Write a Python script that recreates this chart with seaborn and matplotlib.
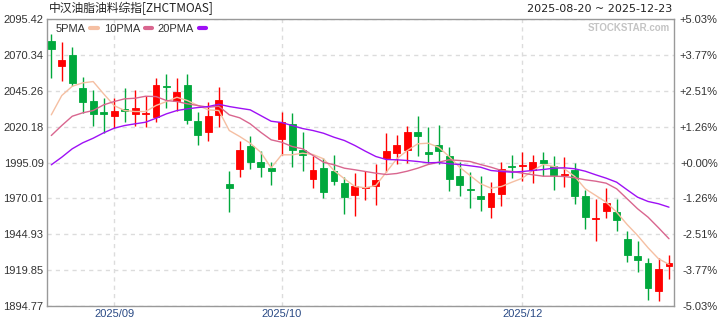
import matplotlib
matplotlib.use("Agg")
import matplotlib.pyplot as plt
from matplotlib.lines import Line2D
import seaborn as sns
import numpy as np
import pandas as pd

# ---------------- data ----------------
opens = [2079.84, 2062.37, 2070.55, 2047.00, 2038.41, 2030.72, 2027.44, 2032.61, 2028.84, 2028.84,
         2026.74, 2048.89, 2037.92, 2049.59, 2024.44, 2016.26, 2028.42, 1979.73, 1990.41, 2006.97,
         1995.10, 1991.11, 2011.37, 2022.34, 2003.97, 1983.43, 1991.11, 1988.81, 1980.42, 1972.04,
         1976.93, 1978.54, 1998.10, 2001.59, 2003.69, 2016.75, 2002.78, 2007.67, 1999.29, 1985.31,
         1976.44, 1971.34, 1963.87, 1972.95, 1992.30, 1992.79, 1989.51, 1997.19, 1992.30, 1986.22,
         1989.51, 1971.34, 1955.27, 1961.07, 1960.16, 1941.30, 1929.43, 1924.54, 1905.18, 1922.79]
highs = [2085.01, 2079.14, 2076.13, 2055.18, 2046.09, 2040.50, 2040.50, 2047.49, 2046.09, 2041.90,
         2053.99, 2057.27, 2053.99, 2056.78, 2030.72, 2037.71, 2047.70, 1988.81, 2010.46, 2013.96,
         2003.48, 1995.10, 2030.23, 2030.03, 2016.75, 1999.50, 1998.10, 1999.99, 1984.83, 1987.41,
         1989.02, 1993.70, 2016.05, 2014.66, 2020.94, 2027.93, 2020.25, 2021.64, 2006.27, 1995.10,
         1988.11, 1985.31, 1981.12, 1995.58, 2000.68, 2002.29, 1999.99, 2002.78, 1999.29, 1998.80,
         1994.88, 1975.53, 1969.25, 1977.42, 1969.74, 1946.89, 1939.90, 1928.24, 1928.24, 1930.12]
lows = [2053.99, 2052.38, 2048.40, 2029.82, 2020.46, 2015.56, 2019.06, 2023.25, 2020.46, 2019.76,
        2023.25, 2033.03, 2031.42, 2021.85, 2007.46, 2009.98, 2019.76, 1960.16, 1984.83, 1990.41,
        1984.83, 1979.24, 2000.68, 1991.81, 1989.02, 1977.14, 1970.16, 1979.03, 1959.26, 1957.58,
        1969.04, 1965.05, 1988.32, 1994.19, 1994.61, 1999.50, 1994.88, 1994.19, 1975.32, 1971.55,
        1963.17, 1961.07, 1956.18, 1964.57, 1984.27, 1982.03, 1980.63, 1985.31, 1975.53, 1977.84,
        1965.75, 1948.78, 1940.12, 1956.18, 1947.10, 1925.23, 1918.45, 1898.69, 1897.99, 1913.71]
closes = [2074.53, 2066.56, 2050.49, 2037.22, 2028.84, 2029.33, 2031.42, 2031.21, 2033.03, 2029.54,
          2049.59, 2047.70, 2044.70, 2024.65, 2014.45, 2027.93, 2039.11, 1977.14, 2004.18, 1995.30,
          1991.60, 1989.02, 2023.74, 2003.69, 2000.19, 1989.51, 1974.35, 1982.03, 1970.85, 1978.33,
          1977.63, 1982.52, 2003.48, 2007.67, 2016.75, 2013.47, 2001.38, 2002.99, 1983.43, 1979.24,
          1975.53, 1969.46, 1973.44, 1990.69, 1991.60, 1993.21, 1995.79, 1994.61, 1986.22, 1986.71,
          1971.55, 1956.88, 1955.97, 1966.94, 1954.79, 1930.33, 1926.84, 1907.28, 1920.83, 1924.54]

ma5 = [2028.42, 2041.90, 2048.40, 2050.77, 2051.68, 2043.09, 2034.92, 2031.42, 2030.72, 2030.72,
       2034.92, 2037.71, 2040.71, 2038.41, 2034.92, 2031.91, 2031.42, 2017.45, 2013.26, 2008.58,
       2002.29, 1991.39, 2000.47, 2000.47, 2001.59, 2000.68, 1997.68, 1989.51, 1983.71, 1978.33,
       1977.42, 1979.03, 1988.32, 1997.68, 2003.48, 2008.16, 2008.58, 2005.78, 1999.29, 1991.81,
       1986.01, 1980.22, 1977.14, 1978.33, 1981.33, 1984.13, 1989.51, 1993.70, 1992.30, 1990.69,
       1985.31, 1976.72, 1972.04, 1967.36, 1960.37, 1951.78, 1944.10, 1935.50, 1927.82, 1923.84]
ma10 = [2013.96, 2020.94, 2027.44, 2029.82, 2031.42, 2035.40, 2037.71, 2039.60, 2040.02, 2041.41,
        2041.20, 2038.41, 2037.71, 2036.10, 2034.92, 2033.73, 2034.43, 2028.42, 2026.32, 2022.13,
        2016.26, 2010.95, 2009.28, 2006.27, 2004.67, 1999.99, 1995.30, 1993.49, 1991.11, 1990.00,
        1988.81, 1987.62, 1986.71, 1987.41, 1989.02, 1991.11, 1993.70, 1995.30, 1996.98, 1996.49,
        1995.79, 1993.70, 1991.81, 1989.51, 1988.81, 1987.62, 1986.50, 1985.52, 1985.52, 1985.31,
        1984.41, 1983.01, 1982.03, 1980.63, 1976.72, 1969.74, 1962.75, 1956.88, 1949.48, 1941.79]
ma20 = [1993.49, 1998.80, 2004.67, 2008.86, 2012.07, 2015.84, 2019.06, 2020.94, 2022.13, 2023.25,
        2026.04, 2029.12, 2031.42, 2032.61, 2033.52, 2034.22, 2035.82, 2034.22, 2033.03, 2031.91,
        2027.93, 2023.95, 2023.04, 2020.94, 2018.85, 2017.45, 2015.56, 2012.77, 2010.46, 2006.97,
        2002.99, 1999.29, 1997.19, 1996.98, 1996.49, 1995.79, 1994.88, 1995.10, 1994.19, 1993.70,
        1992.79, 1991.81, 1989.51, 1988.81, 1988.32, 1988.81, 1989.51, 1990.20, 1991.11, 1991.39,
        1990.69, 1989.02, 1986.50, 1984.13, 1981.33, 1976.02, 1970.85, 1967.85, 1966.24, 1963.87]

month_pos = [6, 22, 45]
month_labels = ["2025/09", "2025/10", "2025/12"]
y_ticks = [2095.42, 2070.34, 2045.26, 2020.18, 1995.09, 1970.01, 1944.93, 1919.85, 1894.77]
pct_labels = ["+5.03%", "+3.77%", "+2.51%", "+1.26%", "+0.00%", "-1.26%", "-2.51%", "-3.77%", "-5.03%"]
ma_names = ["5PMA", "10PMA", "20PMA"]
title = "中汉油脂油料综指[ZHCTMOAS]"
date_range = "2025-08-20 ~ 2025-12-23"

# ---------------- style ----------------
sns.set_style("white")
plt.rcParams["font.family"] = ["Liberation Sans", "DejaVu Sans"]

RED = "#FF0000"
GREEN = "#00A83C"
MA_COLORS = ["#F5BFA2", "#D9668F", "#9E10F5"]
GRID = "#DCDCDC"
TXT = "#333333"

fig = plt.figure(figsize=(7.2, 3.2), dpi=100)
ax = fig.add_axes([47 / 720, 14 / 320, 627 / 720, 287 / 320])

n = len(closes)
df = pd.DataFrame({"idx": np.arange(n), "open": opens, "high": highs,
                   "low": lows, "close": closes})
up = df["close"] >= df["open"]
cols = np.where(up, RED, GREEN)

# wicks and bodies
ax.vlines(df["idx"], df["low"], df["high"], colors=cols, lw=1, zorder=3)
ax.bar(df["idx"], (df["close"] - df["open"]).abs(),
       bottom=np.minimum(df["open"], df["close"]), width=0.66,
       color=cols, edgecolor=cols, linewidth=0.6, zorder=4)

# moving averages via seaborn
ma_df = pd.concat([
    pd.DataFrame({"idx": np.arange(n), "value": vals, "series": name})
    for name, vals in zip(ma_names, [ma5, ma10, ma20])
])
sns.lineplot(data=ma_df, x="idx", y="value", hue="series", hue_order=ma_names,
             palette=MA_COLORS, linewidth=1, legend=False, ax=ax, zorder=5)

ax.set_xlim(-0.41, n - 1 + 0.48)
ax.set_ylim(y_ticks[-1], y_ticks[0])
ax.set_xlabel("")
ax.set_ylabel("")

ax.set_yticks(y_ticks)
ax.set_yticklabels([f"{v:.2f}" for v in y_ticks])
ax.set_xticks(month_pos)
ax.set_xticklabels(month_labels)
ax.grid(True, color=GRID, linestyle=(0, (3, 3)), linewidth=1)
ax.set_axisbelow(True)
ax.tick_params(axis="y", length=0, pad=2.5, labelsize=8, labelcolor=TXT)
ax.tick_params(axis="x", length=0, pad=2, labelsize=8, labelcolor="#2A4A85")
for s in ax.spines.values():
    s.set_color("#999999")
    s.set_linewidth(1)

# right percentage axis
ax2 = ax.twinx()
ax2.set_ylim(y_ticks[-1], y_ticks[0])
ax2.set_yticks(y_ticks)
ax2.set_yticklabels(pct_labels)
ax2.tick_params(axis="y", length=0, pad=31.5, labelsize=8, labelcolor=TXT)
for t in ax2.get_yticklabels():
    t.set_horizontalalignment("right")
ax2.grid(False)
for s in ax2.spines.values():
    s.set_visible(False)

# legend
handles = [Line2D([], [], color=c, lw=3) for c in MA_COLORS]
leg = ax.legend(handles, ma_names, loc="upper left", bbox_to_anchor=(0.0144, 0.984),
                ncol=3, markerfirst=False, frameon=False, fontsize=8,
                handlelength=0.65, handletextpad=0.4, columnspacing=0.55,
                borderpad=0, borderaxespad=0)
for t in leg.get_texts():
    t.set_color(TXT)

# watermark
ax.text(0.9936, 0.969, "STOCKSTAR.com", transform=ax.transAxes, ha="right", va="center",
        fontsize=7, fontweight="bold", color="#C4C4C4", zorder=6)

# header texts
fig.text(49 / 720, 1 - 8.5 / 320, title, family=["Noto Sans CJK SC", "DejaVu Sans"],
         fontsize=8.5, va="center", ha="left", color="#222222")
fig.text(672 / 720, 1 - 8.5 / 320, date_range, family=["DejaVu Sans"],
         fontsize=8, va="center", ha="right", color="#222222")

fig.savefig("out.png", dpi=100)
